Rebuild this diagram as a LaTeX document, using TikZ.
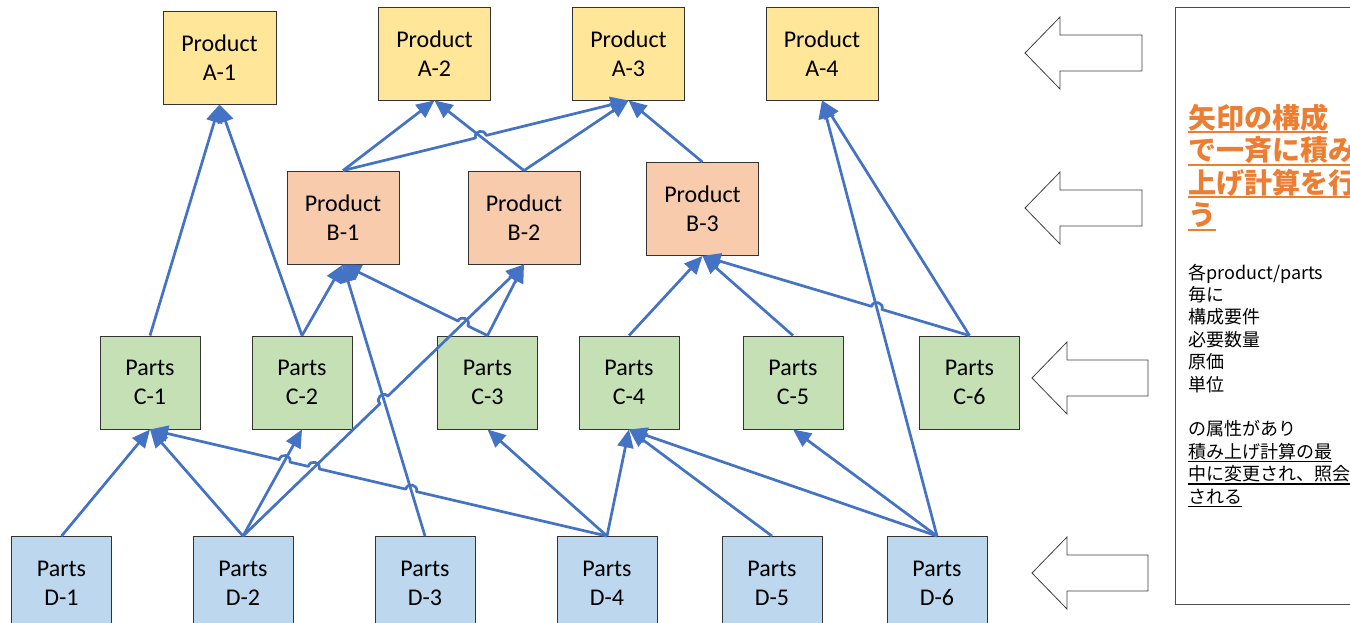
\documentclass[tikz,border=0pt]{standalone}
\usepackage{fontspec}
\setmainfont{Carlito}
\newfontfamily\jp{Noto Sans CJK JP}
\usetikzlibrary{arrows.meta,calc,intersections}
\definecolor{lineblue}{HTML}{4472C4}
\definecolor{fa}{HTML}{FFE699}
\definecolor{fb}{HTML}{F8CBAD}
\definecolor{fc}{HTML}{C5E0B4}
\definecolor{fd}{HTML}{BDD7EE}
\definecolor{orangetxt}{HTML}{ED7D31}
\newsavebox\ulbox
\newcommand\myul[3]{\sbox\ulbox{#3}\rlap{\rule[#1]{\wd\ulbox}{#2}}\usebox\ulbox}
\newcommand\mkhop[5]{%
  \coordinate (#1a) at ($(#1)!5.5pt!(#2)$);
  \coordinate (#1b) at ($(#1)!5.5pt!(#3)$);
  \coordinate (#1c) at ($(#1a)!7.3pt!#4:(#1b)$);
  \coordinate (#1d) at ($(#1b)!7.3pt!#5:(#1a)$);}
\newcommand\blockarrow[3]{%
  \draw[blk] (#1,#2) -- ++(35,-36) -- ++(0,18) -- ++(#3,0) -- ++(0,36) -- ++(-#3,0) -- ++(0,18) -- cycle;}
\begin{document}
\begin{tikzpicture}[x=1pt,y=-1pt,
  box/.style={draw=black!80, line width=0.9pt, minimum height=93pt, align=center, inner sep=0pt,
    font=\fontsize{24}{29}\selectfont},
  abox/.style={box, fill=fa, minimum width=112pt},
  bbox/.style={box, fill=fb, minimum width=112pt},
  cbox/.style={box, fill=fc, minimum width=100pt},
  dbox/.style={box, fill=fd, minimum width=100pt},
  conn/.style={draw=lineblue, line width=2.7pt, line join=round, -{Triangle[length=18pt,width=16pt]}},
  blk/.style={draw=black!75, line width=0.8pt, fill=white, line join=miter},
  bigtxt/.style={anchor=base west, inner sep=0pt, text=orangetxt, font=\jp\bfseries\fontsize{28}{32}\selectfont},
  smalltxt/.style={anchor=base west, inner sep=0pt, text=black, font=\jp\fontsize{18}{22}\selectfont},
]
\fill[white] (0,0) rectangle (1350,622);
\useasboundingbox (0,0) rectangle (1350,622);

% nodes
\node[abox, minimum width=113pt] (A1) at (219.5,57.5) {Product\\A-1};
\node[abox] (A2) at (434.5,53.5) {Product\\A-2};
\node[abox] (A3) at (628.5,53.5) {Product\\A-3};
\node[abox] (A4) at (822,53.5) {Product\\A-4};
\node[bbox] (B1) at (343,217.5) {Product\\B-1};
\node[bbox] (B2) at (524,217.5) {Product\\B-2};
\node[bbox] (B3) at (702.5,209) {Product\\B-3};
\node[cbox] (C1) at (150,382.5) {Parts\\C-1};
\node[cbox] (C2) at (302,382.5) {Parts\\C-2};
\node[cbox] (C3) at (487.5,382.5) {Parts\\C-3};
\node[cbox] (C4) at (629,382.5) {Parts\\C-4};
\node[cbox] (C5) at (793,382.5) {Parts\\C-5};
\node[cbox] (C6) at (969.5,382.5) {Parts\\C-6};
\node[dbox] (D1) at (61.5,583) {Parts\\D-1};
\node[dbox] (D2) at (243,583) {Parts\\D-2};
\node[dbox] (D3) at (425,583) {Parts\\D-3};
\node[dbox] (D4) at (607,583) {Parts\\D-4};
\node[dbox] (D5) at (772,583) {Parts\\D-5};
\node[dbox] (D6) at (937,583) {Parts\\D-6};

% plain connectors
\draw[conn] (C1.north) -- (A1.south);
\draw[conn] (C2.north) -- (A1.south);
\draw[conn] (B1.north) -- (A2.south);
\draw[conn] (B2.north) -- (A2.south);
\draw[conn] (B2.north) -- (A3.south);
\draw[conn] (B3.north) -- (A3.south);
\draw[conn] (D6.north) -- (A4.south);
\draw[conn] (C6.north) -- (A4.south);
\draw[conn] (C2.north) -- (B1.south);
\draw[conn] (D3.north) -- (B1.south);
\draw[conn] (C3.north) -- (B2.south);
\draw[conn] (C4.north) -- (B3.south);
\draw[conn] (C5.north) -- (B3.south);
\draw[conn] (D1.north) -- (C1.south);
\draw[conn] (D2.north) -- (C1.south);
\draw[conn] (D2.north) -- (C2.south);
\draw[conn] (D4.north) -- (C3.south);
\draw[conn] (D4.north) -- (C4.south);
\draw[conn] (D5.north) -- (C4.south);
\draw[conn] (D6.north) -- (C4.south);
\draw[conn] (D6.north) -- (C5.south);

% crossings
\path[name path=b2a2] (B2.north) -- (A2.south);
\path[name path=b1a3] (B1.north) -- (A3.south);
\path[name path=c3b1] (C3.north) -- (B1.south);
\path[name path=d2b2] (D2.north) -- (B2.south);
\path[name path=d3b1] (D3.north) -- (B1.south);
\path[name path=d6a4] (D6.north) -- (A4.south);
\path[name path=c6b3] (C6.north) -- (B3.south);
\path[name path=d4c1] (D4.north) -- (C1.south);
\path[name path=d2c2] (D2.north) -- (C2.south);
\path[name intersections={of=b2a2 and b1a3, by=h1}];
\path[name intersections={of=d2b2 and c3b1, by=h2}];
\path[name intersections={of=d3b1 and d2b2, by=h3}];
\path[name intersections={of=d6a4 and c6b3, by=h4}];
\path[name intersections={of=d3b1 and d4c1, by=h5}];
\path[name intersections={of=d2b2 and d4c1, by=h6}];
\path[name intersections={of=d2c2 and d4c1, by=h7}];
\mkhop{h1}{B1.north}{A3.south}{90}{-90}
\mkhop{h2}{C3.north}{B1.south}{-90}{90}
\mkhop{h3}{D2.north}{B2.south}{90}{-90}
\mkhop{h4}{C6.north}{B3.south}{-90}{90}
\mkhop{h5}{D4.north}{C1.south}{-90}{90}
\mkhop{h6}{D4.north}{C1.south}{-90}{90}
\mkhop{h7}{D4.north}{C1.south}{-90}{90}

% hopped connectors
\draw[conn] (B1.north) -- (h1a) .. controls (h1c) and (h1d) .. (h1b) -- (A3.south);
\draw[conn] (C3.north) -- (h2a) .. controls (h2c) and (h2d) .. (h2b) -- (B1.south);
\draw[conn] (D2.north) -- (h3a) .. controls (h3c) and (h3d) .. (h3b) -- (B2.south);
\draw[conn] (C6.north) -- (h4a) .. controls (h4c) and (h4d) .. (h4b) -- (B3.south);
\draw[conn] (D4.north) -- (h5a) .. controls (h5c) and (h5d) .. (h5b)
   -- (h6a) .. controls (h6c) and (h6d) .. (h6b)
   -- (h7a) .. controls (h7c) and (h7d) .. (h7b) -- (C1.south);

% block arrows
\blockarrow{1025}{53}{82}
\blockarrow{1025}{208}{82}
\blockarrow{1032}{378}{81}
\blockarrow{1032}{573}{81}

% right panel
\draw[draw=black!70, line width=0.8pt] (1175,7) rectangle (1370,604);
\node[bigtxt] (t1) at (1188,128) {\myul{-5pt}{2pt}{矢印の構成}};
\node[bigtxt] (t2) at (1188,160.5) {\myul{-5pt}{2pt}{で一斉に積み}};
\node[bigtxt] (t3) at (1188,193) {\myul{-5pt}{2pt}{上げ計算を行}};
\node[bigtxt] (t4) at (1188,225.5) {\myul{-5pt}{2pt}{う}};
\node[smalltxt] (s1) at (1188,279) {各product/parts};
\node[smalltxt] (s2) at (1188,301.4) {毎に};
\node[smalltxt] (s3) at (1188,323.8) {構成要件};
\node[smalltxt] (s4) at (1188,346.2) {必要数量};
\node[smalltxt] (s5) at (1188,368.6) {原価};
\node[smalltxt] (s6) at (1188,391) {単位};
\node[smalltxt] (s7) at (1188,435.8) {の属性があり};
\node[smalltxt] (s8) at (1188,458.2) {\myul{-4pt}{1.3pt}{積み上げ計算の最}};
\node[smalltxt] (s9) at (1188,480.6) {\myul{-4pt}{1.3pt}{中に変更され、照会}};
\node[smalltxt] (s10) at (1188,503) {\myul{-4pt}{1.3pt}{される}};
\end{tikzpicture}
\end{document}
